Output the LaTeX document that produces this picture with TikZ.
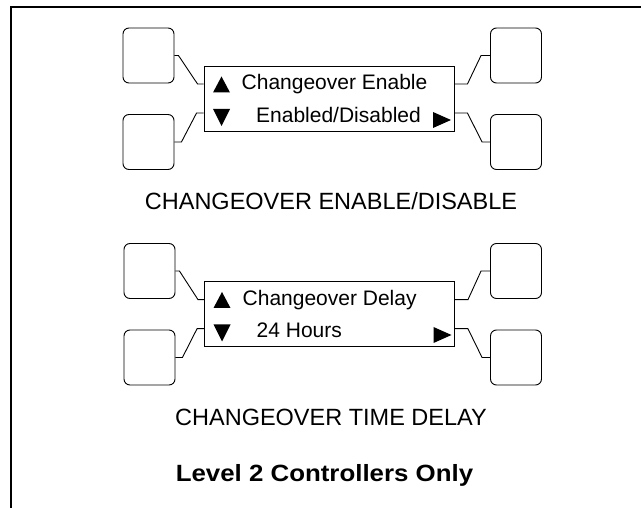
\documentclass[tikz,border=0pt]{standalone}
\usepackage{fontspec}
\setmainfont{Liberation Sans}
\usetikzlibrary{calc}
\begin{document}
\begin{tikzpicture}[x=1pt,y=-1pt,
  btn/.style={draw,line width=0.9pt,rounded corners=6pt,minimum width=51pt,minimum height=55pt,inner sep=0pt},
  disp/.style={draw,line width=0.9pt,minimum width=250pt,minimum height=65pt,inner sep=0pt},
  wire/.style={line width=0.9pt},
  dtext/.style={anchor=base west,inner sep=0pt,font=\fontsize{21}{25}\selectfont},
  ttext/.style={anchor=base,inner sep=0pt,font=\fontsize{23.5}{28}\selectfont},
  tri/.style={fill=black}]
\useasboundingbox (0,0) rectangle (641,508);
\draw[line width=2pt] (11,509) -- (11,7) -- (642,7);
% ---------- panel 1
\node[btn] (tl1) at (148.5,55.5) {};
\node[btn] (bl1) at (148.5,142) {};
\node[btn] (tr1) at (516,55.5) {};
\node[btn] (br1) at (516,142) {};
\node[disp] (d1) at (329,98.5) {};
\draw[wire] (tl1.east) -- ++(4,0) -- ($(d1.west)+(-6,-14.5)$) -- ($(d1.west)+(0,-14.5)$);
\draw[wire] (bl1.east) -- ++(7,0) -- ($(d1.west)+(-7,14.5)$) -- ($(d1.west)+(0,14.5)$);
\draw[wire] (tr1.west) -- ++(-9,0) -- ($(d1.east)+(13,-14.5)$) -- ($(d1.east)+(0,-14.5)$);
\draw[wire] (br1.west) -- ++(-8,0) -- ($(d1.east)+(13,14.5)$) -- ($(d1.east)+(0,14.5)$);
\fill[tri] (213,92.5) -- (230,92.5) -- (221.5,76.5) -- cycle;
\fill[tri] (213,109) -- (230,109) -- (221.5,126) -- cycle;
\fill[tri] (433,112) -- (433,128) -- (451,120) -- cycle;
\node[dtext] (t1a) at (241.5,90) {Changeover Enable};
\node[dtext] (t1b) at (256,122.3) {Enabled/Disabled};
\node[ttext] (h1) at (331,210) {CHANGEOVER ENABLE/DISABLE};
% ---------- panel 2
\node[btn] (tl2) at (149.5,271) {};
\node[btn] (bl2) at (149.5,357.5) {};
\node[btn] (tr2) at (516,271) {};
\node[btn] (br2) at (516,357.5) {};
\node[disp] (d2) at (329.5,314.2) {};
\draw[wire] (tl2.east) -- ++(4,0) -- ($(d2.west)+(-6,-14.5)$) -- ($(d2.west)+(0,-14.5)$);
\draw[wire] (bl2.east) -- ++(7,0) -- ($(d2.west)+(-7,14.5)$) -- ($(d2.west)+(0,14.5)$);
\draw[wire] (tr2.west) -- ++(-9,0) -- ($(d2.east)+(13,-14.5)$) -- ($(d2.east)+(0,-14.5)$);
\draw[wire] (br2.west) -- ++(-8,0) -- ($(d2.east)+(13,14.5)$) -- ($(d2.east)+(0,14.5)$);
\fill[tri] (213.5,308) -- (230.5,308) -- (222,292) -- cycle;
\fill[tri] (213.5,324.5) -- (230.5,324.5) -- (222,341.5) -- cycle;
\fill[tri] (433.5,327) -- (433.5,343) -- (451.5,335) -- cycle;
\node[dtext] (t2a) at (242.5,305.5) {Changeover Delay};
\node[dtext] (t2b) at (256.5,337.5) {24 Hours};
\node[ttext] (h2) at (331,425) {CHANGEOVER TIME DELAY};
\node[ttext,font=\fontsize{23.5}{28}\selectfont\bfseries] (h3) at (324.5,481.5) {\scalebox{1.1}[1]{Level 2 Controllers Only}};
\end{tikzpicture}
\end{document}
